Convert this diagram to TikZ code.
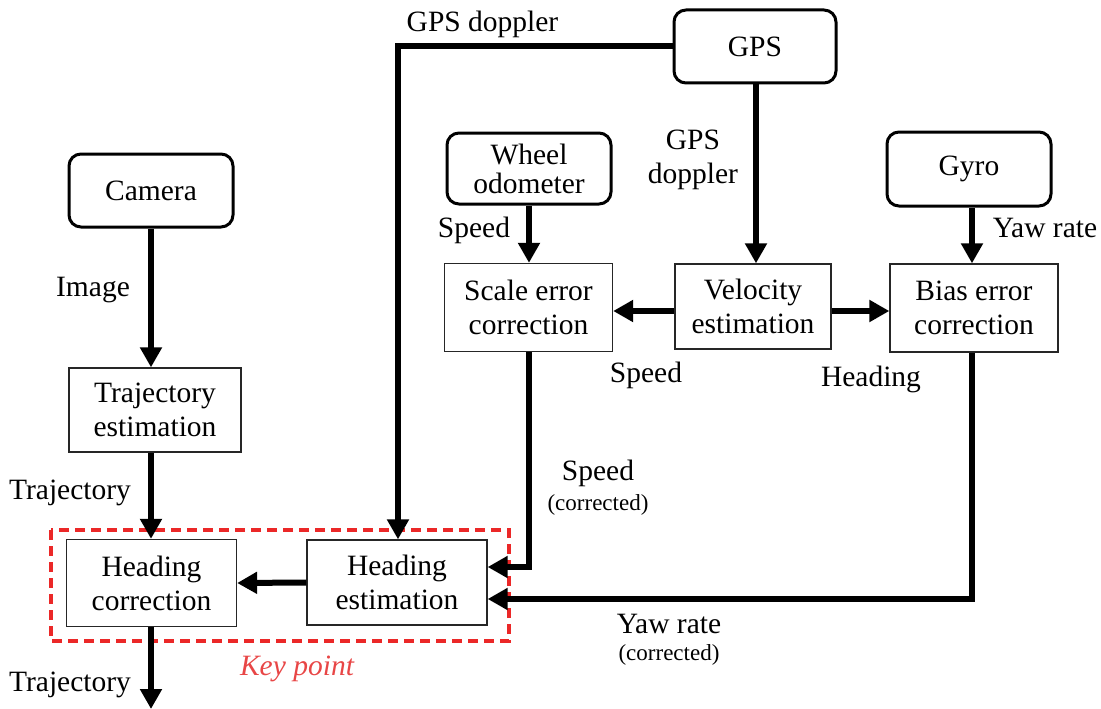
\documentclass[tikz,border=0pt]{standalone}
\usepackage{fontspec}
\setmainfont{Liberation Serif}
\usetikzlibrary{arrows.meta}
\definecolor{keyred}{RGB}{235,40,40}
\definecolor{keytext}{RGB}{232,70,70}
\begin{document}
\begin{tikzpicture}[x=1pt,y=-1pt,
  every node/.style={font=\fontsize{29.5}{34}\selectfont, inner sep=0pt, align=center},
  src/.style={draw, line width=3pt, rounded corners=12pt},
  proc/.style={draw, line width=1.3pt, draw=black!85},
  small/.style={font=\fontsize{23}{26}\selectfont},
  flow/.style={line width=6pt, -{Triangle[length=20pt,width=21pt]}}
]
\useasboundingbox (0,0) rectangle (1101,709);
% sources
\node[src, minimum width=164pt, minimum height=73pt] (cam) at (151,190.5) {Camera};
\node[src, minimum width=162pt, minimum height=73pt] (gps) at (755,46.5) {GPS};
\node[src, minimum width=164pt, minimum height=71pt, font=\fontsize{29.5}{29}\selectfont] (wheel) at (529,168.5) {Wheel\\odometer};
\node[src, minimum width=164pt, minimum height=74pt] (gyro) at (969,169) {Gyro};
% processes
\node[proc, minimum width=168pt, minimum height=88pt] (scale) at (528.5,307.5) {Scale error\\correction};
\node[proc, minimum width=156pt, minimum height=85pt] (vel) at (753,306.5) {Velocity\\estimation};
\node[proc, minimum width=168pt, minimum height=88pt] (bias) at (974,308) {Bias error\\correction};
\node[proc, minimum width=172pt, minimum height=84pt] (traj) at (155,410) {Trajectory\\estimation};
\node[proc, minimum width=170pt, minimum height=87pt] (hcorr) at (151.5,583) {Heading\\correction};
\node[proc, minimum width=180pt, minimum height=85pt] (hest) at (397,582.5) {Heading\\estimation};
% key point box
\draw[keyred, line width=3.3pt, dash pattern=on 10pt off 6pt] (51,530) rectangle (509,641);
\node[text=keytext, font=\fontsize{29.5}{34}\selectfont\itshape] (key) at (297,669) {Key point};
% coordinates
\coordinate (gpsturn) at (398,46.5);
\coordinate (scaleturn) at (529,567);
\coordinate (biasturn) at (972,599);
\coordinate (out) at (151,709);
% connectors
\draw[flow] (cam.south -| 151,0) -- (traj.north -| 151,0);
\draw[flow] (traj.south -| 151,0) -- (hcorr.north -| 151,0);
\draw[flow] (hcorr.south -| 151,0) -- (out);
\draw[flow] (hest.west) -- (hcorr.east);
\draw[flow] (gps.west) -- (gpsturn) -- (hest.north -| gpsturn);
\draw[flow] (gps.south -| 756,0) -- (vel.north -| 756,0);
\draw[flow] (wheel.south) -- (scale.north -| wheel.south);
\draw[flow] (gyro.south -| 972,0) -- (bias.north -| 972,0);
\draw[flow] (vel.west |- 0,311) -- (scale.east |- 0,311);
\draw[flow] (vel.east |- 0,311) -- (bias.west |- 0,311);
\draw[flow] (scale.south -| scaleturn) -- (scaleturn) -- (hest.east |- scaleturn);
\draw[flow] (bias.south -| biasturn) -- (biasturn) -- (hest.east |- biasturn);
% labels
\node (lgpsd) at (482.5,24) {GPS doppler};
\node (lgpsd2) at (693,160) {GPS\\doppler};
\node (limg) at (93,290) {Image};
\node (ltraj1) at (70,493) {Trajectory};
\node (ltraj2) at (70,685) {Trajectory};
\node (lspw) at (474,230) {Speed};
\node (lyaw) at (1045,228) {Yaw rate};
\node (lspv) at (646,375) {Speed};
\node (lhead) at (871,379) {Heading};
\node (lspc) at (598,473) {Speed};
\node[small] (lspc2) at (598,505) {(corrected)};
\node (lyawc) at (669,624) {Yaw rate};
\node[small] (lyawc2) at (669,655) {(corrected)};
\end{tikzpicture}
\end{document}
